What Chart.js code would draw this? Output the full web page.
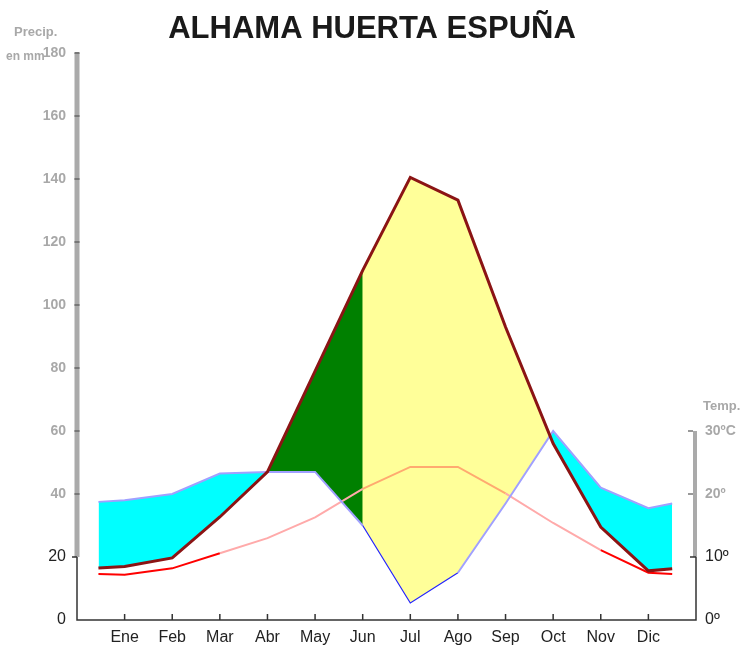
<!DOCTYPE html>
<html>
<head>
<meta charset="utf-8">
<script src="https://cdn.jsdelivr.net/npm/chart.js@4.4.1/dist/chart.umd.min.js"></script>
<style>
  body { margin: 0; background: #fff; }
  canvas { display: block; }
</style>
</head>
<body>
<canvas id="climograma" width="744" height="653"></canvas>
<script>
// datos (mm y ºC)
const meses = ['Ene', 'Feb', 'Mar', 'Abr', 'May', 'Jun', 'Jul', 'Ago', 'Sep', 'Oct', 'Nov', 'Dic'];
const precip = [38, 40, 46.5, 47, 47, 30, 5.4, 15, 37, 60, 42, 35.5];
const etp = [17, 19.7, 32.7, 47, 79, 111, 140.5, 133.3, 93, 56, 29.5, 15.6];
const temp = [7.2, 8.2, 10.6, 13, 16.3, 20.8, 24.3, 24.3, 20.1, 15.4, 11.1, 7.5];
// valores en los bordes (medio mes antes de Ene y despues de Dic)
const bordeP = [37.5, 37];
const bordeEtp = [16.5, 16.3];
const bordeT = [7.3, 7.3];
const tempTicks = [0, 10, 20, 30];
const tempLabels = ['0º', '10º', '20º', '30ºC'];

Chart.defaults.font.family = "'Liberation Sans', Arial, sans-serif";

// serie completa con los puntos de borde
const serie = (vals, borde) => {
  const pts = [{x: 0.45, y: borde[0]}];
  vals.forEach((v, i) => pts.push({x: i + 1, y: v}));
  pts.push({x: 12.5, y: borde[1]});
  return pts;
};
const tramo = (vals, a, b) => vals.slice(a - 1, b).map((v, i) => ({x: a + i, y: v}));

const colorT = (ctx) => {
  const x0 = ctx.p0.parsed.x;
  if (x0 < 3 || x0 >= 11) return '#ff0000';
  if (x0 >= 6 && x0 < 9) return '#ffaa70';
  return '#ffaaaa';
};
const colorP = (ctx) => {
  const x0 = ctx.p0.parsed.x;
  if (x0 >= 6 && x0 < 8) return '#2222ff';
  return '#a0a0ff';
};

const ejes = {
  id: 'ejes',
  afterDraw(chart) {
    const {ctx, scales: {x, y, yT}} = chart;
    const L = chart.chartArea.left, R = chart.chartArea.right, B = chart.chartArea.bottom;
    ctx.save();
    // eje gris de precipitacion
    ctx.fillStyle = '#aaaaaa';
    ctx.fillRect(L - 2.5, y.getPixelForValue(180), 5, y.getPixelForValue(20) - y.getPixelForValue(180));
    ctx.fillStyle = '#777777';
    for (let v = 40; v <= 180; v += 20) ctx.fillRect(L - 2.5, y.getPixelForValue(v) - 1, 5, 2);
    // eje gris de temperatura
    ctx.fillStyle = '#aaaaaa';
    ctx.fillRect(R - 3, yT.getPixelForValue(30), 4, yT.getPixelForValue(10) - yT.getPixelForValue(30));
    ctx.fillStyle = '#999999';
    [20, 30].forEach(v => ctx.fillRect(R - 8, yT.getPixelForValue(v) - 1, 5, 2));
    // ejes oscuros
    ctx.strokeStyle = '#333333';
    ctx.lineWidth = 1.5;
    ctx.beginPath();
    ctx.moveTo(L, y.getPixelForValue(20));
    ctx.lineTo(L, B);
    ctx.lineTo(R, B);
    ctx.lineTo(R, yT.getPixelForValue(10));
    ctx.moveTo(L - 5, y.getPixelForValue(20));
    ctx.lineTo(L, y.getPixelForValue(20));
    ctx.moveTo(R - 6, yT.getPixelForValue(10));
    ctx.lineTo(R, yT.getPixelForValue(10));
    meses.forEach((m, i) => {
      const px = x.getPixelForValue(i + 1);
      ctx.moveTo(px, B);
      ctx.lineTo(px, B - 6);
    });
    ctx.stroke();
    // rotulos de los ejes
    ctx.fillStyle = '#a8a8a8';
    ctx.font = "bold 13px 'Liberation Sans', Arial, sans-serif";
    ctx.textBaseline = 'middle';
    ctx.textAlign = 'left';
    ctx.fillText('Precip.', 14, 32);
    ctx.font = "bold 12px 'Liberation Sans', Arial, sans-serif";
    ctx.fillText('en mm', 6, 57);
    ctx.font = "bold 13px 'Liberation Sans', Arial, sans-serif";
    ctx.fillText('Temp.', 703, 406);
    ctx.restore();
  }
};

const ctx = document.getElementById('climograma').getContext('2d');
new Chart(ctx, {
  type: 'line',
  data: {
    datasets: [
      { // 0 ETP
        data: serie(etp, bordeEtp),
        borderColor: '#8b1414',
        borderWidth: 3,
        pointRadius: 0,
        fill: false,
        order: 1
      },
      { // 1 temperatura
        data: serie(temp, bordeT),
        yAxisID: 'yT',
        borderColor: '#ff0000',
        borderWidth: 2,
        segment: {borderColor: colorT},
        pointRadius: 0,
        fill: false,
        order: 3
      },
      { // 2 precipitacion (linea)
        data: serie(precip, bordeP),
        borderColor: '#a0a0ff',
        borderWidth: 2,
        segment: {borderColor: colorP, borderWidth: (c) => (c.p0.parsed.x >= 6 && c.p0.parsed.x < 8) ? 1.2 : 2},
        pointRadius: 0,
        fill: false,
        order: 2
      },
      { // 3 relleno exceso / deficit
        data: serie(precip, bordeP),
        borderWidth: 0,
        pointRadius: 0,
        fill: {target: 0, above: '#00ffff', below: '#ffff99'},
        order: 10
      },
      { // 4 relleno utilizacion de reservas
        data: tramo(etp, 4, 6),
        borderWidth: 0,
        pointRadius: 0,
        fill: {target: 5, above: '#008000', below: '#008000'},
        order: 9
      },
      { // 5 base del relleno
        data: tramo(precip, 4, 6),
        borderWidth: 0,
        pointRadius: 0,
        fill: false,
        order: 11
      }
    ]
  },
  options: {
    responsive: false,
    animation: false,
    layout: {padding: 0},
    elements: {line: {tension: 0}},
    plugins: {
      legend: {display: false},
      tooltip: {enabled: false},
      title: {
        display: true,
        text: 'ALHAMA HUERTA ESPUÑA',
        color: '#1a1a1a',
        font: {size: 31, weight: 'bold', lineHeight: 1.2},
        padding: {top: 11, bottom: 4.8}
      }
    },
    scales: {
      x: {
        type: 'linear',
        min: 0,
        max: 13,
        afterBuildTicks: (axis) => { axis.ticks = meses.map((m, i) => ({value: i + 1})); },
        afterFit: (axis) => { axis.height = 33; },
        ticks: {
          autoSkip: false,
          maxRotation: 0,
          padding: 8,
          color: '#222222',
          font: {size: 16},
          callback: (v) => meses[v - 1]
        },
        grid: {display: false, drawTicks: false},
        border: {display: false}
      },
      y: {
        position: 'left',
        min: 0,
        max: 180,
        afterFit: (axis) => { axis.width = 77; },
        ticks: {
          stepSize: 20,
          padding: 11,
          color: (c) => c.tick && c.tick.value <= 20 ? '#222222' : '#a8a8a8',
          font: (c) => c.tick && c.tick.value <= 20 ? {size: 16} : {size: 14, weight: 'bold'}
        },
        grid: {display: false, drawTicks: false},
        border: {display: false}
      },
      yT: {
        position: 'right',
        min: 0,
        max: 90,
        afterBuildTicks: (axis) => { axis.ticks = tempTicks.map(v => ({value: v})); },
        afterFit: (axis) => { axis.width = 48; },
        ticks: {
          padding: 9,
          color: (c) => c.tick && c.tick.value <= 10 ? '#222222' : '#a8a8a8',
          font: (c) => c.tick && c.tick.value <= 10 ? {size: 16} : {size: 14, weight: 'bold'},
          callback: (v) => tempLabels[tempTicks.indexOf(v)]
        },
        grid: {display: false, drawTicks: false},
        border: {display: false}
      }
    }
  },
  plugins: [ejes]
});
</script>
</body>
</html>
